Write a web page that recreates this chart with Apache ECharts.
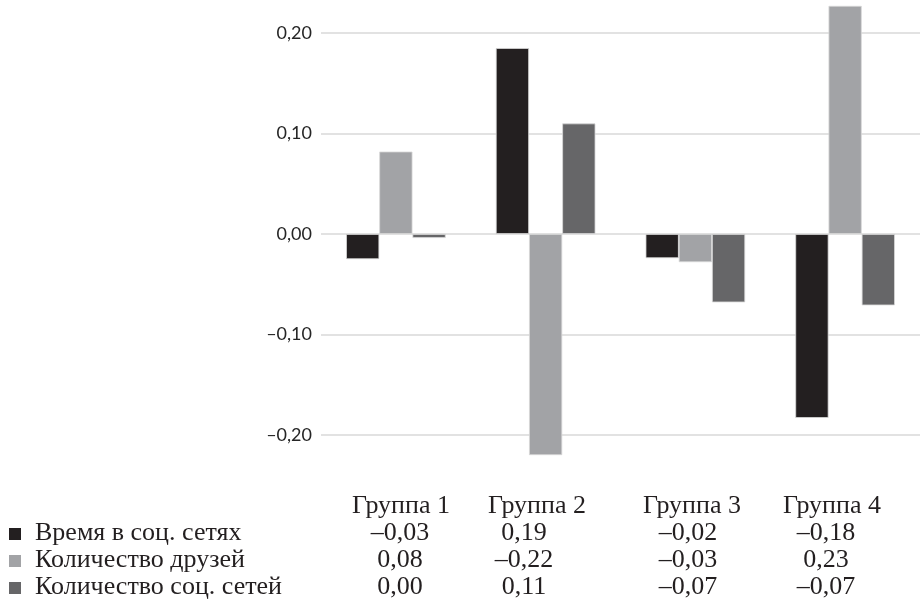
<!DOCTYPE html>
<html>
<head>
<meta charset="utf-8">
<script src="https://cdn.jsdelivr.net/npm/echarts@6/dist/echarts.min.js"></script>
<style>
  html, body { margin: 0; padding: 0; background: #ffffff; }
  #chart { width: 920px; height: 602px; }
</style>
</head>
<body>
<div id="chart"></div>
<script>
// ---- data ----
const categories = ['Группа 1', 'Группа 2', 'Группа 3', 'Группа 4'];
const seriesNames = ['Время в соц. сетях', 'Количество друзей', 'Количество соц. сетей'];
const timeValues = [-0.025, 0.185, -0.024, -0.183];
const friendsValues = [0.082, -0.220, -0.028, 0.227];
const networksValues = [-0.004, 0.110, -0.068, -0.071];
const timeLabels = ['–0,03', '0,19', '–0,02', '–0,18'];
const friendsLabels = ['0,08', '–0,22', '–0,03', '0,23'];
const networksLabels = ['0,00', '0,11', '–0,07', '–0,07'];

// ---- style / layout ----
const colors = ['#231f20', '#a2a3a6', '#666668'];
const seriesValues = [timeValues, friendsValues, networksValues];
const tableRows = [timeLabels, friendsLabels, networksLabels];
const headerX = [401, 537, 692, 832];
const valueX = [400, 524, 688, 826];
const headerY = 506;
const rowY = [533, 560, 587];
const serif = '"Liberation Serif", "Times New Roman", serif';
const fontSize = 26;

const chart = echarts.init(document.getElementById('chart'), null, { renderer: 'canvas' });

const graphics = [];
categories.forEach((c, i) => {
  graphics.push({
    type: 'text', x: headerX[i], y: headerY,
    style: { text: c, font: fontSize + 'px ' + serif, fill: '#231f20', textAlign: 'center', textVerticalAlign: 'middle' }
  });
});
seriesNames.forEach((n, r) => {
  graphics.push({
    type: 'rect', shape: { x: 9, y: rowY[r] - 5, width: 12, height: 12 },
    style: { fill: colors[r] }
  });
  graphics.push({
    type: 'text', x: 35, y: rowY[r],
    style: { text: n, font: fontSize + 'px ' + serif, fill: '#231f20', textAlign: 'left', textVerticalAlign: 'middle' }
  });
  tableRows[r].forEach((t, i) => {
    graphics.push({
      type: 'text', x: valueX[i], y: rowY[r],
      style: { text: t, font: fontSize + 'px ' + serif, fill: '#231f20', textAlign: 'center', textVerticalAlign: 'middle' }
    });
  });
});

const option = {
  backgroundColor: '#ffffff',
  animation: false,
  grid: { left: 321, top: 33, width: 601, height: 402, containLabel: false },
  xAxis: {
    type: 'category',
    data: categories,
    axisLine: { show: false },
    axisTick: { show: false },
    axisLabel: { show: false },
    splitLine: { show: false }
  },
  yAxis: {
    type: 'value',
    min: -0.2, max: 0.2, interval: 0.1,
    axisLine: { show: false },
    axisTick: { show: false },
    splitLine: { lineStyle: { color: '#d9d9d9', width: 1.5 } },
    axisLabel: {
      margin: 9,
      color: '#262626',
      fontFamily: 'Lato, "Open Sans", sans-serif',
      fontSize: 18,
      formatter: v => {
        const s = (Math.abs(v) < 1e-9 ? 0 : v).toFixed(2).replace('.', ',');
        return s.replace('-', '–');
      }
    }
  },
  series: seriesNames.map((n, k) => ({
    name: n,
    type: 'bar',
    data: seriesValues[k],
    clip: false,
    barGap: '0%',
    barCategoryGap: '33.5%',
    itemStyle: { color: colors[k], borderColor: '#d8d8d8', borderWidth: 0.8 }
  })),
  graphic: graphics
};
chart.setOption(option);
</script>
</body>
</html>
